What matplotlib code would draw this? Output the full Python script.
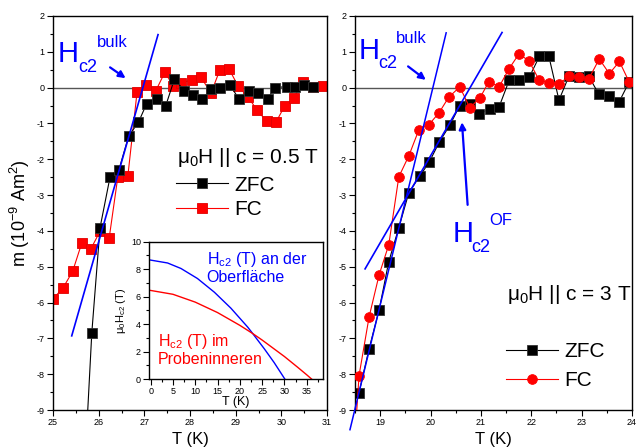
import matplotlib
matplotlib.use('Agg')
import matplotlib.pyplot as plt
from matplotlib.ticker import MultipleLocator

plt.rcParams['font.family'] = ['Liberation Sans', 'DejaVu Sans']
plt.rcParams['mathtext.fontset'] = 'custom'
plt.rcParams['mathtext.rm'] = 'Liberation Sans'
plt.rcParams['mathtext.it'] = 'Liberation Sans:italic'
plt.rcParams['axes.unicode_minus'] = False

# magnetic moment, mu0H || c = 0.5 T
t05_zfc = [25.72, 25.85, 26.03, 26.25, 26.44, 26.66, 26.87, 27.05, 27.27, 27.47, 27.66, 27.87,
           28.07, 28.27, 28.46, 28.65, 28.87, 29.07, 29.29, 29.49, 29.70, 29.86, 30.12, 30.30,
           30.49, 30.69]
m05_zfc = [-10.0, -6.84, -3.91, -2.49, -2.31, -1.34, -0.97, -0.45, -0.31, -0.50, 0.24, -0.08,
           -0.20, -0.32, -0.04, 0.0, 0.08, -0.31, -0.08, -0.14, -0.31, 0.0, 0.03, 0.03,
           0.06, 0.03]
t05_fc = [25.0, 25.22, 25.43, 25.63, 25.83, 26.03, 26.23, 26.42, 26.64, 26.84, 27.03, 27.25,
          27.45, 27.63, 27.80, 28.05, 28.24, 28.46, 28.65, 28.86, 29.05, 29.27, 29.47, 29.68,
          29.88, 30.07, 30.27, 30.47, 30.69, 30.91]
m05_fc = [-5.9, -5.59, -5.13, -4.34, -4.5, -4.01, -4.2, -2.49, -2.46, -0.13, 0.08, -0.09,
          0.43, 0.05, 0.13, 0.22, 0.29, -0.15, 0.48, 0.51, 0.05, -0.26, -0.63, -0.94,
          -0.97, -0.52, -0.29, 0.16, 0.02, 0.05]
fit05_t = [25.41, 27.30]
fit05_m = [-6.93, 1.48]

# magnetic moment, mu0H || c = 3 T
t3_zfc = [18.58, 18.78, 18.98, 19.17, 19.37, 19.57, 19.79, 19.97, 20.17, 20.39, 20.58, 20.78,
          20.96, 21.18, 21.36, 21.56, 21.76, 21.96, 22.16, 22.35, 22.55, 22.75, 22.95, 23.14,
          23.34, 23.54, 23.74, 23.94]
m3_zfc = [-8.52, -7.29, -6.2, -4.86, -3.91, -2.93, -2.46, -2.09, -1.53, -1.03, -0.50, -0.47,
          -0.73, -0.59, -0.54, 0.2, 0.2, 0.29, 0.87, 0.87, -0.35, 0.33, 0.29, 0.32,
          -0.18, -0.24, -0.41, 0.15]
t3_fc = [18.48, 18.58, 18.78, 18.98, 19.17, 19.37, 19.57, 19.77, 19.97, 20.17, 20.36, 20.58,
         20.78, 20.98, 21.16, 21.36, 21.56, 21.76, 21.96, 22.16, 22.35, 22.55, 22.75, 22.95,
         23.14, 23.35, 23.55, 23.75, 23.94]
m3_fc = [-10.2, -8.04, -6.4, -5.22, -4.39, -2.49, -1.9, -1.17, -1.03, -0.7, -0.27, 0.02,
         -0.56, -0.29, 0.17, 0.02, 0.53, 0.95, 0.73, 0.2, 0.14, 0.1, 0.32, 0.29,
         0.24, 0.8, 0.39, 0.73, 0.17]
fit3_bulk_t = [18.40, 20.31]
fit3_bulk_m = [-9.55, 1.53]
fit3_of_t = [18.70, 21.42]
fit3_of_m = [-5.06, 1.54]

# Hc2(T) curves for the inset
hc2_of_t = [0, 3.8, 6.8, 10.5, 14.3, 18.0, 21.8, 22.9, 25.5, 27.7, 29.2, 30.1]
hc2_of = [8.66, 8.45, 8.05, 7.32, 6.32, 5.16, 3.77, 3.31, 2.2, 1.2, 0.45, 0.0]
hc2_in_t = [0, 5, 10, 15, 20, 22.9, 25, 30, 33, 35, 36.1]
hc2_in = [6.45, 6.17, 5.6, 4.84, 3.91, 3.31, 2.84, 1.64, 0.85, 0.31, 0.0]

BLUE = '#0000ff'
RED = '#ff0000'


def style_axis(ax, xmaj, ymaj, labelsize=6.5):
    ax.xaxis.set_major_locator(MultipleLocator(xmaj))
    ax.xaxis.set_minor_locator(MultipleLocator(xmaj / 2))
    ax.yaxis.set_major_locator(MultipleLocator(ymaj))
    ax.yaxis.set_minor_locator(MultipleLocator(ymaj / 2))
    ax.tick_params(which='both', direction='out', top=False, right=False,
                   labelsize=labelsize, width=0.8, pad=2)
    ax.tick_params(which='major', length=4)
    ax.tick_params(which='minor', length=2.5)
    for s in ax.spines.values():
        s.set_linewidth(1.0)


fig = plt.figure(figsize=(6.38, 4.48), dpi=100)
W, H = 638.0, 448.0
ax1 = fig.add_axes([53 / W, 1 - 410 / H, 274 / W, 394 / H])
ax2 = fig.add_axes([355 / W, 1 - 410 / H, 277 / W, 394 / H])

mkw = dict(ms=6.5, mew=0.6)

# ---- left panel: 0.5 T ----
ax1.axhline(0, color='#555555', lw=1.0, zorder=1)
ax1.plot(t05_zfc, m05_zfc, '-s', color='black', lw=0.8, mec='#333333', label='ZFC', zorder=3, **mkw)
ax1.plot(t05_fc, m05_fc, '-s', color=RED, lw=0.8, mec='#e00000', label='FC', zorder=2, **mkw)
ax1.plot(fit05_t, fit05_m, color=BLUE, lw=1.2, zorder=4)
ax1.set_xlim(25, 31)
ax1.set_ylim(-9, 2)
style_axis(ax1, 1, 1)
ax1.set_xlabel('T (K)', fontsize=12, labelpad=3)
ax1.set_ylabel(r'm (10$\mathregular{^{-9}}$ Am$\mathregular{^2}$)', fontsize=13, labelpad=3)

ax1.text(0.018, 0.883, 'H', transform=ax1.transAxes, color=BLUE, fontsize=21)
ax1.text(0.091, 0.858, 'c2', transform=ax1.transAxes, color=BLUE, fontsize=13)
ax1.text(0.161, 0.921, 'bulk', transform=ax1.transAxes, color=BLUE, fontsize=12)
ax1.annotate('', xy=(26.64, 0.22), xytext=(26.20, 0.61),
             arrowprops=dict(arrowstyle='-|>', color=BLUE, lw=1.6, mutation_scale=10))

ax1.text(0.453, 0.627, r'μ$\mathregular{_0}$H || c = 0.5 T', transform=ax1.transAxes,
         fontsize=15, va='baseline')
ax1.legend(loc='upper left', bbox_to_anchor=(0.45, 0.595), frameon=False, fontsize=15,
           handlelength=2.5, handletextpad=0.3, labelspacing=0.27, borderpad=0,
           borderaxespad=0, numpoints=1)

# ---- right panel: 3 T ----
ax2.axhline(0, color='#555555', lw=1.0, zorder=1)
ax2.plot(t3_zfc, m3_zfc, '-s', color='black', lw=0.8, mec='#333333', label='ZFC', zorder=2, **mkw)
ax2.plot(t3_fc, m3_fc, '-o', color=RED, lw=0.8, mec=RED, label='FC', zorder=3, ms=7, mew=0.6)
ax2.plot(fit3_bulk_t, fit3_bulk_m, color=BLUE, lw=1.1, zorder=4, clip_on=False)
ax2.plot(fit3_of_t, fit3_of_m, color=BLUE, lw=1.2, zorder=4)
ax2.set_xlim(18.5, 24)
ax2.set_ylim(-9, 2)
style_axis(ax2, 1, 1)
ax2.set_xlabel('T (K)', fontsize=12, labelpad=3)

ax2.text(0.014, 0.891, 'H', transform=ax2.transAxes, color=BLUE, fontsize=21)
ax2.text(0.083, 0.868, 'c2', transform=ax2.transAxes, color=BLUE, fontsize=13)
ax2.text(0.148, 0.931, 'bulk', transform=ax2.transAxes, color=BLUE, fontsize=12)
ax2.annotate('', xy=(19.95, 0.17), xytext=(19.51, 0.64),
             arrowprops=dict(arrowstyle='-|>', color=BLUE, lw=1.6, mutation_scale=10))

ax2.text(0.354, 0.426, 'H', transform=ax2.transAxes, color=BLUE, fontsize=21)
ax2.text(0.419, 0.401, 'c2', transform=ax2.transAxes, color=BLUE, fontsize=13)
ax2.text(0.484, 0.470, 'OF', transform=ax2.transAxes, color=BLUE, fontsize=12)
ax2.annotate('', xy=(20.62, -0.89), xytext=(20.74, -3.35),
             arrowprops=dict(arrowstyle='-|>', color=BLUE, lw=1.6, mutation_scale=10))

ax2.text(0.549, 0.279, r'μ$\mathregular{_0}$H || c = 3 T', transform=ax2.transAxes,
         fontsize=15, va='baseline')
ax2.legend(loc='upper left', bbox_to_anchor=(0.545, 0.172), frameon=False, fontsize=15,
           handlelength=2.5, handletextpad=0.3, labelspacing=0.46, borderpad=0,
           borderaxespad=0, numpoints=1)

# ---- inset: Hc2(T) ----
axin = fig.add_axes([149.3 / W, 1 - 379 / H, 173.4 / W, 137.3 / H])
axin.plot(hc2_of_t, hc2_of, color=BLUE, lw=1.0)
axin.plot(hc2_in_t, hc2_in, color=RED, lw=1.0)
axin.set_xlim(-0.3, 38.6)
axin.set_ylim(0, 10)
style_axis(axin, 5, 2)
axin.set_xlabel('T (K)', fontsize=9, labelpad=0)
axin.set_ylabel(r'μ$\mathregular{_0}$H$\mathregular{_{c2}}$ (T)', fontsize=8, labelpad=2)
axin.text(0.33, 0.94, 'H$\\mathregular{_{c2}}$ (T) an der\nOberfläche', transform=axin.transAxes,
          color=BLUE, fontsize=11.5, va='top', linespacing=1.1)
axin.text(0.05, 0.345, 'H$\\mathregular{_{c2}}$ (T) im\nProbeninneren', transform=axin.transAxes,
          color=RED, fontsize=11.5, va='top', linespacing=1.1)

fig.savefig('out.png', dpi=100)
